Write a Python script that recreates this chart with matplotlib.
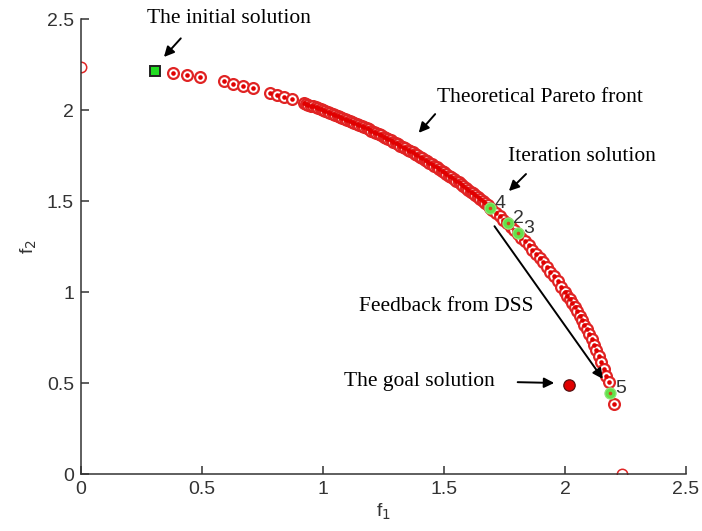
import matplotlib
matplotlib.use("Agg")
import matplotlib.pyplot as plt

# theoretical Pareto front points
sparse_f1 = [0.38, 0.44, 0.49, 0.59, 0.63, 0.67, 0.71, 0.78, 0.81, 0.84, 0.87]
sparse_f2 = [2.2036, 2.1924, 2.1817, 2.1568, 2.1455, 2.1333, 2.1204, 2.0956,
             2.0842, 2.0723, 2.0599]

dense_f1 = [0.92, 0.93, 0.94, 0.95, 0.96, 0.97, 0.98, 0.99, 1.00, 1.01, 1.02,
            1.03, 1.04, 1.05, 1.06, 1.07, 1.08, 1.09, 1.10, 1.11, 1.12, 1.13,
            1.14, 1.15, 1.16, 1.17, 1.18, 1.19, 1.20, 1.21, 1.22, 1.23, 1.24,
            1.25, 1.26, 1.27, 1.28, 1.29, 1.30, 1.31, 1.32, 1.33, 1.34, 1.35,
            1.36, 1.37, 1.38, 1.39, 1.40, 1.41, 1.42, 1.43, 1.44, 1.45, 1.46,
            1.47, 1.48, 1.49, 1.50, 1.51, 1.52, 1.53, 1.54, 1.55, 1.56, 1.57,
            1.58, 1.59, 1.60, 1.61, 1.62, 1.63, 1.64, 1.65, 1.66, 1.67, 1.68,
            1.69, 1.70]
dense_f2 = [2.0380, 2.0335, 2.0289, 2.0242, 2.0195, 2.0147, 2.0099, 2.0050,
            2.0000, 1.9950, 1.9899, 1.9847, 1.9795, 1.9742, 1.9689, 1.9634,
            1.9580, 1.9524, 1.9468, 1.9411, 1.9354, 1.9295, 1.9236, 1.9177,
            1.9117, 1.9056, 1.8994, 1.8931, 1.8868, 1.8804, 1.8739, 1.8674,
            1.8608, 1.8541, 1.8473, 1.8404, 1.8335, 1.8265, 1.8193, 1.8122,
            1.8049, 1.7975, 1.7901, 1.7826, 1.7749, 1.7672, 1.7594, 1.7515,
            1.7436, 1.7355, 1.7273, 1.7190, 1.7107, 1.7022, 1.6936, 1.6850,
            1.6762, 1.6673, 1.6583, 1.6492, 1.6400, 1.6307, 1.6212, 1.6117,
            1.6020, 1.5922, 1.5823, 1.5722, 1.5620, 1.5518, 1.5413, 1.5307,
            1.5200, 1.5091, 1.4981, 1.4870, 1.4757, 1.4642, 1.4526]

tail_f1 = [1.715, 1.73, 1.745, 1.76, 1.775, 1.79, 1.805, 1.82, 1.835, 1.85,
           1.865, 1.88, 1.895, 1.91, 1.925, 1.94, 1.955, 1.97, 1.985, 2.00,
           2.01, 2.02, 2.03, 2.04, 2.05, 2.06, 2.07, 2.08, 2.09, 2.10, 2.11,
           2.12, 2.13, 2.14, 2.15, 2.16, 2.17, 2.18, 2.204]
tail_f2 = [1.4348, 1.4167, 1.3982, 1.3793, 1.3599, 1.3401, 1.3198, 1.2991,
           1.2778, 1.2560, 1.2336, 1.2106, 1.1870, 1.1627, 1.1377, 1.1119,
           1.0853, 1.0579, 1.0295, 1.0000, 0.9797, 0.9590, 0.9376, 0.9156,
           0.8930, 0.8697, 0.8456, 0.8207, 0.7949, 0.7681, 0.7402, 0.7111,
           0.6805, 0.6484, 0.6144, 0.5783, 0.5395, 0.5050, 0.3850]

# extreme points of the front
end_f1 = [0.0, 2.236]
end_f2 = [2.236, 0.0]

initial_f1, initial_f2 = 0.306, 2.215
goal_f1, goal_f2 = 2.015, 0.487

# iteration solutions (label, f1, f2)
iter_labels = ["4", "2", "3", "5"]
iter_f1 = [1.690, 1.766, 1.807, 2.186]
iter_f2 = [1.460, 1.377, 1.322, 0.447]

serif = "Liberation Serif"
sans = "Liberation Sans"
red = "#e02424"

front_f1 = sparse_f1 + dense_f1 + tail_f1
front_f2 = sparse_f2 + dense_f2 + tail_f2

fig = plt.figure(figsize=(7.02, 5.31), dpi=100)
ax = fig.add_axes([0.1154, 0.1073, 0.8618, 0.8569])

ax.plot(front_f1, front_f2, "o", mfc="white", mec=red, mew=1.6, ms=7.8, zorder=2)
ax.plot(end_f1, end_f2, "o", mfc="white", mec=red, mew=1.1, ms=7.5, zorder=2)
ax.plot(front_f1, front_f2, "o", color="#e00000", mew=0, ms=3.3, zorder=3)
ax.plot(iter_f1, iter_f2, "o", mfc="#62e24a", mec="#90e57a", mew=0.9, ms=8, zorder=4)
ax.plot(iter_f1, iter_f2, "o", color="#cc4a1a", mew=0, ms=2.6, zorder=5)
ax.plot(initial_f1, initial_f2, "s", mfc="#22dd22", mec="#222222", mew=1.4, ms=6.8, zorder=5)
ax.plot(goal_f1, goal_f2, "o", mfc="#e00000", mec="#551010", mew=0.9, ms=8.2, zorder=5)

for lab, x, y in zip(iter_labels, iter_f1, iter_f2):
    ax.text(x + 0.042, y + 0.025, lab, fontsize=14, family=sans, color="#333333",
            ha="center", va="center", zorder=6)

arrow = dict(arrowstyle="-|>", color="black", lw=1.4, mutation_scale=15)
txt = dict(fontsize=15.5, family=serif, ha="center", va="center")

ax.text(0.61, 2.505, "The initial solution", clip_on=False, **txt)
ax.annotate("", xy=(0.335, 2.28), xytext=(0.42, 2.405), arrowprops=arrow)

ax.text(1.897, 2.07, "Theoretical Pareto front", **txt)
ax.annotate("", xy=(1.388, 1.863), xytext=(1.471, 1.989), arrowprops=arrow)

ax.text(2.07, 1.742, "Iteration solution", **txt)
ax.annotate("", xy=(1.760, 1.544), xytext=(1.847, 1.659), arrowprops=arrow)

ax.text(1.51, 0.918, "Feedback from DSS", **txt)
ax.annotate("", xy=(2.163, 0.51), xytext=(1.702, 1.374), arrowprops=arrow)

ax.text(1.40, 0.511, "The goal solution", **txt)
ax.annotate("", xy=(1.967, 0.50), xytext=(1.793, 0.505), arrowprops=arrow)

ax.set_xlim(0, 2.5)
ax.set_ylim(0, 2.5)
ticks = [0, 0.5, 1, 1.5, 2, 2.5]
tick_labels = ["0", "0.5", "1", "1.5", "2", "2.5"]
ax.set_xticks(ticks)
ax.set_xticklabels(tick_labels)
ax.set_yticks(ticks)
ax.set_yticklabels(tick_labels)
for s in ["top", "right"]:
    ax.spines[s].set_visible(False)
for s in ["left", "bottom"]:
    ax.spines[s].set_color("#333333")
    ax.spines[s].set_linewidth(1.1)
ax.tick_params(direction="in", length=6, width=1.1, color="#333333",
               labelsize=14, labelcolor="#333333", pad=5)
for t in ax.get_xticklabels() + ax.get_yticklabels():
    t.set_family(sans)
ax.set_xlabel("f$_1$", fontsize=14, family=sans, color="#333333", labelpad=3)
ax.set_ylabel("f$_2$", fontsize=14, family=sans, color="#333333", labelpad=6)

fig.savefig("out.png", dpi=100)
